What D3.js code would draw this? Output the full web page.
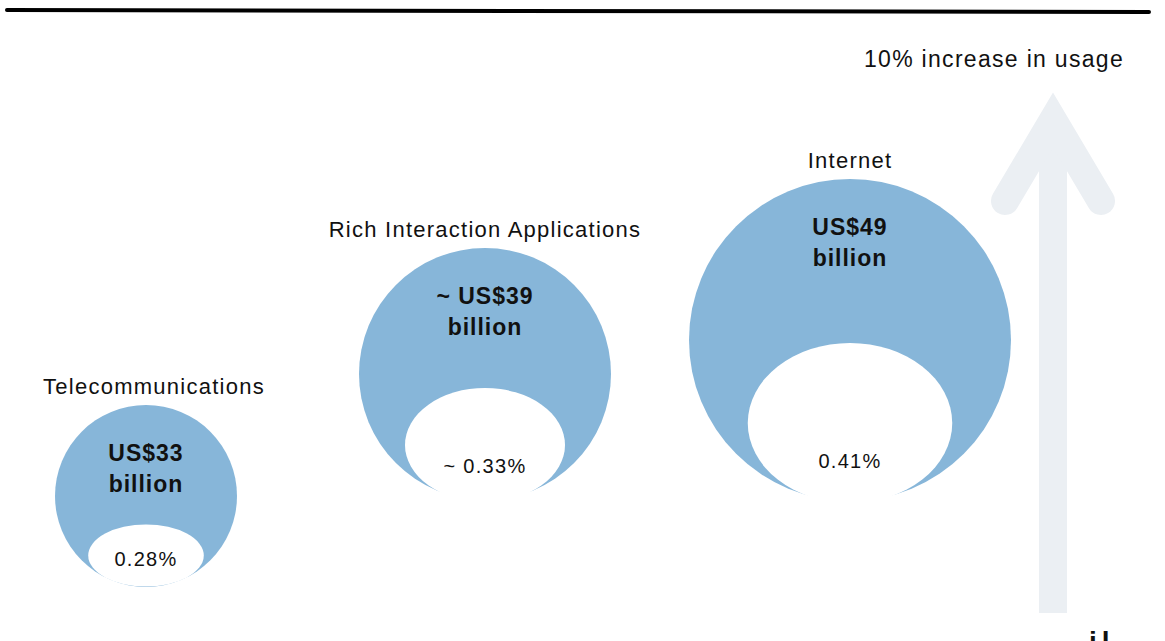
<!DOCTYPE html>
<html>
<head>
<meta charset="utf-8">
<script src="https://cdn.jsdelivr.net/npm/d3@7"></script>
<style>
	html, body { margin: 0; padding: 0; background: #fff; }
	svg { display: block; font-family: Arial, "Liberation Sans", sans-serif; }
</style>
</head>
<body>
<svg id="chart" width="1165" height="641"></svg>
<script>

// Chart data
const categories = ["Telecommunications", "Rich Interaction Applications", "Internet"];
const revenue = [33, 39, 49]; // US$ billion
const revenueLines = [["US$33", "billion"], ["~ US$39", "billion"], ["US$49", "billion"]];
const shares = [0.28, 0.33, 0.41]; // percent
const shareLabels = ["0.28%", "~ 0.33%", "0.41%"];
const arrowLabel = "10% increase in usage";

// Draw bubbles
function drawBubbles(svgId) {

	const svg = d3.select(svgId),
		width = +svg.attr("width"),
		height = +svg.attr("height");

	const blue = "#87b6d9";
	const ink = "#111";

	// Scales
	const x = d3.scaleOrdinal().domain(categories).range([146, 485, 850]);
	const y = d3.scaleOrdinal().domain(categories).range([496, 374, 340]);
	const r = d3.scaleLinear().domain(revenue).range([91, 126, 161]);
	const ry = d3.scaleLinear().domain(shares).range([31, 57, 80]);
	const drop = d3.scaleLinear().domain(shares).range([-0.5, 2, 2]); // ellipse bottom vs circle bottom
	const labelDx = d3.scaleOrdinal().domain(categories).range([8, 0, 0]);

	const data = categories.map((c, i) => ({
		cat: c, value: revenue[i], lines: revenueLines[i],
		share: shares[i], shareLabel: shareLabels[i]
	}));

	// Top rule
	svg.append("line")
		.attr("x1", 7).attr("y1", 10)
		.attr("x2", width - 16).attr("y2", 12)
		.attr("stroke", "#000")
		.attr("stroke-width", 4)
		.attr("stroke-linecap", "round");

	// Usage arrow (light grey)
	const ax = 1053, tipY = 120, wingX = 48, wingY = 201, baseY = 613;
	const arrow = svg.append("g")
		.attr("fill", "none")
		.attr("stroke", "#ebeff3")
		.attr("stroke-width", 28);
	arrow.append("line")
		.attr("x1", ax).attr("y1", tipY + 20)
		.attr("x2", ax).attr("y2", baseY);
	arrow.append("path")
		.attr("d", d3.line()([[ax - wingX, wingY], [ax, tipY], [ax + wingX, wingY]]))
		.attr("stroke-linecap", "round")
		.attr("stroke-linejoin", "miter")
		.attr("stroke-miterlimit", 10);

	svg.append("text")
		.attr("x", 994).attr("y", 67)
		.attr("text-anchor", "middle")
		.attr("font-size", 23)
		.attr("letter-spacing", 1.3)
		.attr("fill", ink)
		.text(arrowLabel);

	const node = svg.append("g")
		.selectAll("g")
		.data(data)
		.join("g");

	// Outer circles
	node.append("circle")
		.attr("cx", d => x(d.cat))
		.attr("cy", d => y(d.cat))
		.attr("r", d => r(d.value))
		.attr("fill", blue);

	// Inner share ellipse, anchored at circle bottom
	node.append("ellipse")
		.attr("cx", d => x(d.cat))
		.attr("cy", d => y(d.cat) + r(d.value) + drop(d.share) - ry(d.share))
		.attr("rx", d => r(d.value) * 0.635)
		.attr("ry", d => ry(d.share))
		.attr("fill", "#fff");

	// Category labels
	node.append("text")
		.attr("x", d => x(d.cat) + labelDx(d.cat))
		.attr("y", d => y(d.cat) - r(d.value) - 11)
		.attr("text-anchor", "middle")
		.attr("font-size", 22)
		.attr("letter-spacing", 1.25)
		.attr("fill", ink)
		.text(d => d.cat);

	// Revenue labels
	node.each(function(d) {
		const g = d3.select(this);
		const top = y(d.cat) - r(d.value);
		d.lines.forEach((t, k) => {
			g.append("text")
				.attr("x", x(d.cat))
				.attr("y", top + 56 + k * 31)
				.attr("text-anchor", "middle")
				.attr("font-size", 23)
				.attr("font-weight", "bold")
				.attr("letter-spacing", 1)
				.attr("fill", ink)
				.text(t);
		});
	});

	// Share labels
	node.append("text")
		.attr("x", d => x(d.cat))
		.attr("y", d => y(d.cat) + r(d.value) - 6 - 0.17 * r(d.value))
		.attr("text-anchor", "middle")
		.attr("font-size", 20)
		.attr("letter-spacing", 1.3)
		.attr("fill", ink)
		.text(d => d.shareLabel);

	// Cut-off text at bottom edge
	svg.append("text")
		.attr("x", 1089).attr("y", 651)
		.attr("font-size", 28)
		.attr("font-weight", "bold")
		.attr("letter-spacing", 5)
		.attr("fill", ink)
		.text("il");
}

drawBubbles("#chart");
</script>
</body>
</html>
